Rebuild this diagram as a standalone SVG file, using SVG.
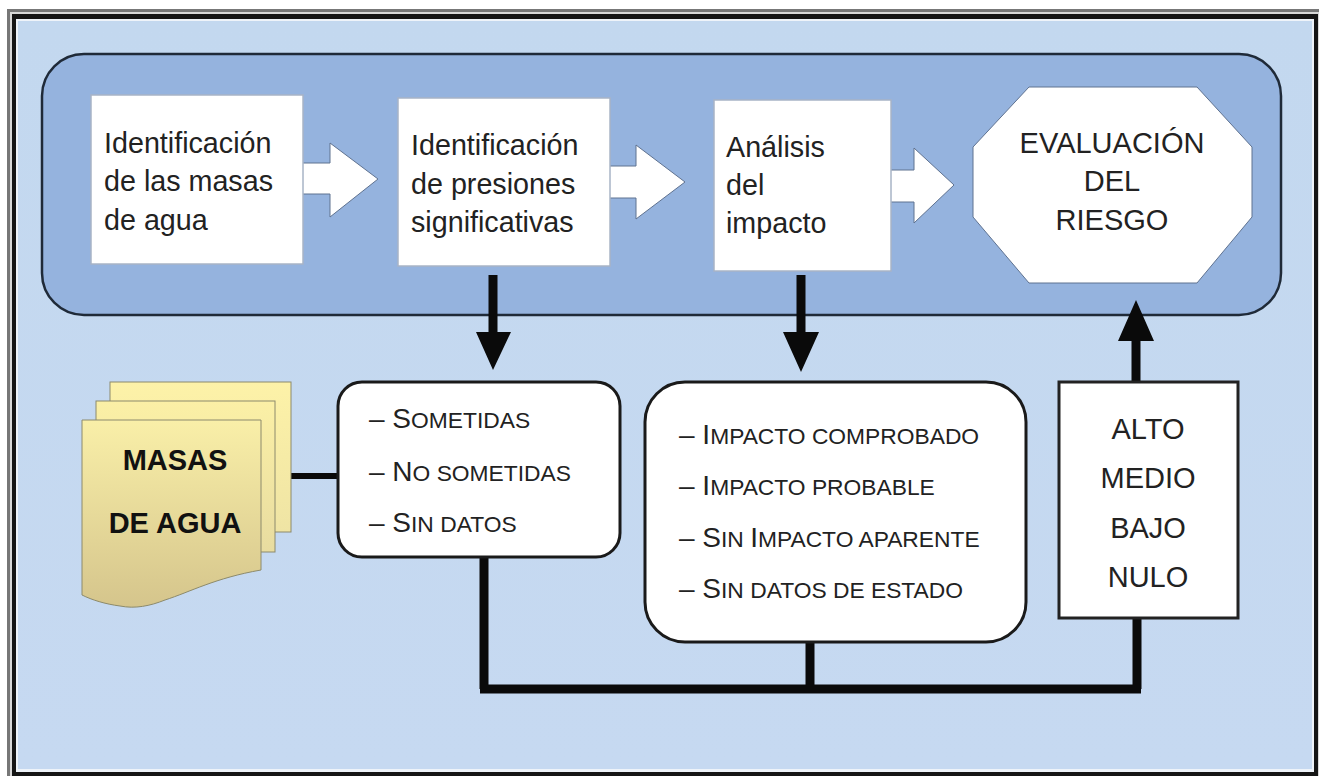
<svg xmlns="http://www.w3.org/2000/svg" width="1319" height="776" viewBox="0 0 1319 776">
<style>
text{font-family:"Liberation Sans",Arial,sans-serif;fill:#222}
.t{font-size:28.7px}
.c{font-size:29px;text-anchor:middle}
.l{font-size:28px}
.s{font-size:22.8px}
.b{font-size:29px;font-weight:bold;text-anchor:middle;fill:#111}
.box{fill:#fff;stroke:#a8b4c6;stroke-width:1.5}
.wa{fill:#fff;stroke:none}
.wo{fill:none;stroke:#5f7290;stroke-width:1}
.bk{fill:none;stroke:#0a0a0a;stroke-linecap:butt}
.r{fill:#fff;stroke:#1a1a1a;stroke-width:3}
.doc{stroke:#8c8a6c;stroke-width:1}
</style>
<defs>
<linearGradient id="bg" x1="0" y1="0" x2="0" y2="1"><stop offset="0" stop-color="#c3d8ef"/><stop offset="1" stop-color="#c6d9f1"/></linearGradient>
<linearGradient id="d1" x1="0" y1="0" x2="0" y2="1"><stop offset="0" stop-color="#fdf2a8"/><stop offset="1" stop-color="#efe4a4"/></linearGradient>
<linearGradient id="d2" x1="0" y1="0" x2="0" y2="1"><stop offset="0" stop-color="#fbf0a6"/><stop offset="1" stop-color="#e8dca0"/></linearGradient>
<linearGradient id="d3" x1="0" y1="0" x2="0" y2="1"><stop offset="0" stop-color="#f9efa8"/><stop offset="1" stop-color="#d5c58c"/></linearGradient>
</defs>
<rect width="1319" height="776" fill="#fff"/>
<g id="frame">
<rect x="7" y="9" width="1312" height="767" fill="#777"/>
<rect x="10" y="12" width="1309" height="764" fill="#d8d8d8"/>
<rect x="12" y="14" width="1306" height="762" fill="#151515"/>
<rect x="16" y="19" width="1298" height="753" fill="#eef3f9"/>
<rect x="18" y="21" width="1294" height="748" fill="url(#bg)"/>
</g>
<g id="panel"><rect x="42" y="54" width="1239" height="261" rx="42" fill="#95b3de" stroke="#1f2a38" stroke-width="2.5"/></g>
<g id="connectors">
<path class="bk" stroke-width="9" d="M484 557V689M810 642V689M1137 618V689M480 689H1141"/>
<path class="bk" stroke-width="6" d="M291 476H337"/>
<path class="bk" stroke-width="9" d="M493 275V335M801 275V335M1136 382V338"/>
<path fill="#0a0a0a" d="M476 332H511L493 370ZM783 332H819L801 372ZM1118 341H1154L1136 300Z"/>
<g id="block-arrows">
<path class="wa" d="M303 163H330V143L378 179L330 217V194H303Z"/>
<path class="wo" d="M303 163H330V143L378 179L330 217V194H303"/>
<path class="wa" d="M610 166H636V145L685 182L636 219V198H610Z"/>
<path class="wo" d="M610 166H636V145L685 182L636 219V198H610"/>
<path class="wa" d="M891 170H914V148L954 185L914 223V202H891Z"/>
<path class="wo" d="M891 170H914V148L954 185L914 223V202H891"/>
</g>
</g>
<g id="n1"><rect class="box" x="91" y="95" width="212" height="169"/><text class="t"><tspan x="104" y="153">Identificación</tspan><tspan x="104" y="191">de las masas</tspan><tspan x="104" y="230">de agua</tspan></text></g>
<g id="n2"><rect class="box" x="398" y="98" width="212" height="168"/><text class="t"><tspan x="411" y="155">Identificación</tspan><tspan x="411" y="194">de presiones</tspan><tspan x="411" y="232">significativas</tspan></text></g>
<g id="n3"><rect class="box" x="714" y="100" width="177" height="171"/><text class="t"><tspan x="726" y="157">Análisis</tspan><tspan x="726" y="195">del</tspan><tspan x="726" y="233">impacto</tspan></text></g>
<g id="n4"><path fill="#fff" stroke="#5f7290" stroke-width="1" d="M1029 87H1197L1252 147V217L1197 283H1029L973 217V147Z"/><text class="c"><tspan x="1112" y="153">EVALUACIÓN</tspan><tspan x="1112" y="191">DEL</tspan><tspan x="1112" y="230">RIESGO</tspan></text></g>
<g id="n5">
<rect class="doc" x="110" y="382" width="181" height="150" fill="url(#d1)"/>
<rect class="doc" x="96" y="401" width="179" height="151" fill="url(#d2)"/>
<path class="doc" fill="url(#d3)" d="M82 420H261V570C215 578 190 592 165 600C150 606 135 609 120 606C105 604 92 600 82 595Z"/>
<text class="b"><tspan x="175" y="470">MASAS</tspan><tspan x="175" y="533">DE AGUA</tspan></text>
</g>
<g id="n6"><rect class="r" x="338" y="382" width="282" height="175" rx="24"/>
<text class="l" y="428" x="369">– S<tspan class="s">OMETIDAS</tspan></text>
<text class="l" y="481" x="369">– N<tspan class="s">O SOMETIDAS</tspan></text>
<text class="l" y="532" x="369">– S<tspan class="s">IN DATOS</tspan></text></g>
<g id="n7"><rect class="r" x="645" y="382" width="381" height="260" rx="40"/>
<text class="l" y="444" x="679">– I<tspan class="s">MPACTO COMPROBADO</tspan></text>
<text class="l" y="495" x="679">– I<tspan class="s">MPACTO PROBABLE</tspan></text>
<text class="l" y="547" x="679">– S<tspan class="s">IN </tspan>I<tspan class="s">MPACTO APARENTE</tspan></text>
<text class="l" y="598" x="679">– S<tspan class="s">IN DATOS DE ESTADO</tspan></text></g>
<g id="n8"><rect x="1059" y="382" width="179" height="236" fill="#fff" stroke="#222" stroke-width="3"/>
<text class="c"><tspan x="1148" y="439">ALTO</tspan><tspan x="1148" y="488">MEDIO</tspan><tspan x="1148" y="538">BAJO</tspan><tspan x="1148" y="587">NULO</tspan></text></g>
</svg>
